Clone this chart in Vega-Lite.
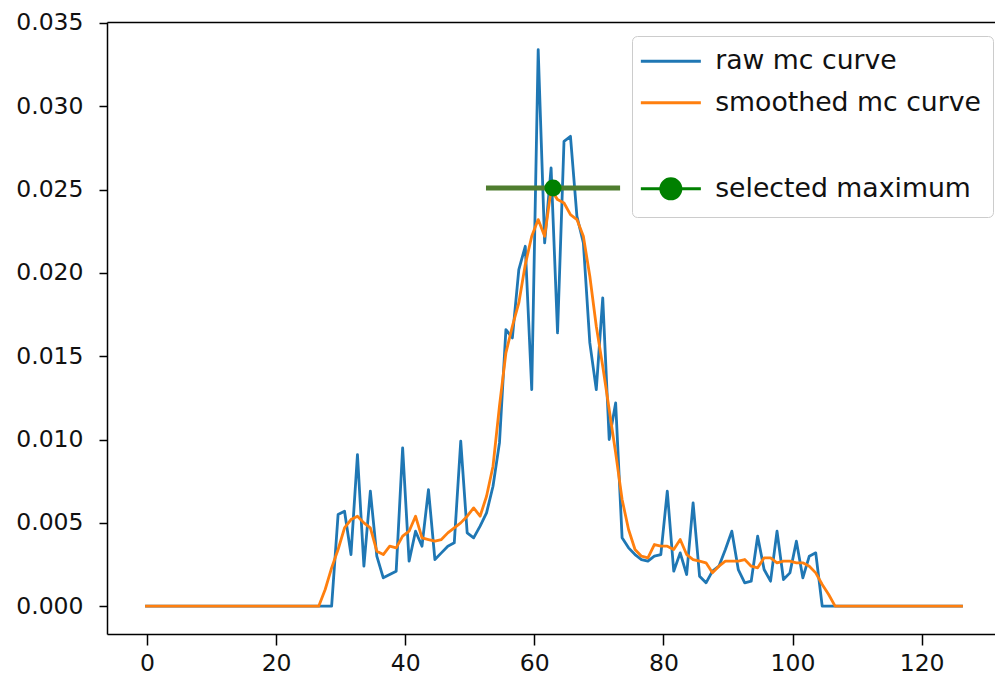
{
  "$schema": "https://vega.github.io/schema/vega-lite/v6.json",
  "width": 888,
  "height": 612,
  "autosize": {"type": "none"},
  "padding": {"left": 107, "top": 22, "right": 0, "bottom": 44},
  "background": "white",
  "config": {
    "view": {"stroke": null},
    "font": "DejaVu Sans",
    "axis": {
      "grid": false,
      "title": null,
      "domainColor": "#000000",
      "domainWidth": 1.5,
      "tickColor": "#000000",
      "tickWidth": 1.5,
      "labelColor": "#111111",
      "labelFont": "DejaVu Sans",
      "labelFontSize": 23.5,
      "labelFlush": false,
      "labelOverlap": false
    }
  },
  "datasets": {
    "mc": [
      {"x":-0.3,"raw":0,"smooth":0},{"x":1.6,"raw":0,"smooth":0},{"x":2.6,"raw":0,"smooth":0},{"x":3.6,"raw":0,"smooth":0},
      {"x":4.6,"raw":0,"smooth":0},{"x":5.6,"raw":0,"smooth":0},{"x":6.6,"raw":0,"smooth":0},{"x":7.6,"raw":0,"smooth":0},
      {"x":8.6,"raw":0,"smooth":0},{"x":9.6,"raw":0,"smooth":0},{"x":10.6,"raw":0,"smooth":0},{"x":11.6,"raw":0,"smooth":0},
      {"x":12.6,"raw":0,"smooth":0},{"x":13.6,"raw":0,"smooth":0},{"x":14.6,"raw":0,"smooth":0},{"x":15.6,"raw":0,"smooth":0},
      {"x":16.6,"raw":0,"smooth":0},{"x":17.6,"raw":0,"smooth":0},{"x":18.6,"raw":0,"smooth":0},{"x":19.6,"raw":0,"smooth":0},
      {"x":20.6,"raw":0,"smooth":0},{"x":21.6,"raw":0,"smooth":0},{"x":22.6,"raw":0,"smooth":0},{"x":23.6,"raw":0,"smooth":0},
      {"x":24.6,"raw":0,"smooth":0},{"x":25.6,"raw":0,"smooth":0},{"x":26.6,"raw":0,"smooth":0},{"x":27.6,"raw":0,"smooth":0.0010},
      {"x":28.6,"raw":0,"smooth":0.0023},{"x":29.6,"raw":0.0055,"smooth":0.0034},{"x":30.6,"raw":0.0057,"smooth":0.0047},
      {"x":31.6,"raw":0.0031,"smooth":0.0052},{"x":32.6,"raw":0.0091,"smooth":0.0054},{"x":33.6,"raw":0.0024,"smooth":0.0050},
      {"x":34.6,"raw":0.0069,"smooth":0.0047},{"x":35.6,"raw":0.0030,"smooth":0.0033},{"x":36.6,"raw":0.0017,"smooth":0.0031},
      {"x":37.6,"raw":0.0019,"smooth":0.0036},{"x":38.6,"raw":0.0021,"smooth":0.0035},{"x":39.6,"raw":0.0095,"smooth":0.0042},
      {"x":40.6,"raw":0.0027,"smooth":0.0045},{"x":41.6,"raw":0.0045,"smooth":0.0054},{"x":42.6,"raw":0.0036,"smooth":0.0041},
      {"x":43.6,"raw":0.0070,"smooth":0.0040},{"x":44.6,"raw":0.0028,"smooth":0.0039},{"x":45.6,"raw":0.0032,"smooth":0.0040},
      {"x":46.6,"raw":0.0036,"smooth":0.0044},{"x":47.6,"raw":0.0038,"smooth":0.0047},{"x":48.6,"raw":0.0099,"smooth":0.0050},
      {"x":49.6,"raw":0.0044,"smooth":0.0054},{"x":50.6,"raw":0.0041,"smooth":0.0059},{"x":51.6,"raw":0.0048,"smooth":0.0054},
      {"x":52.6,"raw":0.0056,"smooth":0.0066},{"x":53.6,"raw":0.0072,"smooth":0.0084},{"x":54.6,"raw":0.0098,"smooth":0.0120},
      {"x":55.6,"raw":0.0166,"smooth":0.0152},{"x":56.6,"raw":0.0161,"smooth":0.0168},{"x":57.6,"raw":0.0202,"smooth":0.0182},
      {"x":58.6,"raw":0.0216,"smooth":0.0205},{"x":59.6,"raw":0.0130,"smooth":0.0222},{"x":60.6,"raw":0.0334,"smooth":0.0232},
      {"x":61.6,"raw":0.0218,"smooth":0.0222},{"x":62.6,"raw":0.0263,"smooth":0.0250},{"x":63.6,"raw":0.0164,"smooth":0.0244},
      {"x":64.6,"raw":0.0279,"smooth":0.0242},{"x":65.6,"raw":0.0282,"smooth":0.0235},{"x":66.6,"raw":0.0234,"smooth":0.0232},
      {"x":67.6,"raw":0.0218,"smooth":0.0222},{"x":68.6,"raw":0.0158,"smooth":0.0198},{"x":69.6,"raw":0.0130,"smooth":0.0168},
      {"x":70.6,"raw":0.0185,"smooth":0.0144},{"x":71.6,"raw":0.0100,"smooth":0.0118},{"x":72.6,"raw":0.0122,"smooth":0.0092},
      {"x":73.6,"raw":0.0041,"smooth":0.0064},{"x":74.6,"raw":0.0035,"smooth":0.0046},{"x":75.6,"raw":0.0031,"smooth":0.0034},
      {"x":76.6,"raw":0.0028,"smooth":0.0030},{"x":77.6,"raw":0.0027,"smooth":0.0029},{"x":78.6,"raw":0.0030,"smooth":0.0037},
      {"x":79.6,"raw":0.0031,"smooth":0.0036},{"x":80.6,"raw":0.0069,"smooth":0.0036},{"x":81.6,"raw":0.0021,"smooth":0.0034},
      {"x":82.6,"raw":0.0032,"smooth":0.0040},{"x":83.6,"raw":0.0019,"smooth":0.0031},{"x":84.6,"raw":0.0062,"smooth":0.0028},
      {"x":85.6,"raw":0.0018,"smooth":0.0027},{"x":86.6,"raw":0.0014,"smooth":0.0026},{"x":87.6,"raw":0.0021,"smooth":0.0020},
      {"x":88.6,"raw":0.0024,"smooth":0.0024},{"x":89.6,"raw":0.0034,"smooth":0.0027},{"x":90.6,"raw":0.0045,"smooth":0.0027},
      {"x":91.6,"raw":0.0022,"smooth":0.0027},{"x":92.6,"raw":0.0014,"smooth":0.0028},{"x":93.6,"raw":0.0015,"smooth":0.0024},
      {"x":94.6,"raw":0.0042,"smooth":0.0023},{"x":95.6,"raw":0.0022,"smooth":0.0029},{"x":96.6,"raw":0.0015,"smooth":0.0029},
      {"x":97.6,"raw":0.0045,"smooth":0.0026},{"x":98.6,"raw":0.0016,"smooth":0.0027},{"x":99.6,"raw":0.0020,"smooth":0.0027},
      {"x":100.6,"raw":0.0039,"smooth":0.0026},{"x":101.6,"raw":0.0017,"smooth":0.0026},{"x":102.6,"raw":0.0030,"smooth":0.0024},
      {"x":103.6,"raw":0.0032,"smooth":0.0020},{"x":104.6,"raw":0,"smooth":0.0013},{"x":105.6,"raw":0,"smooth":0.0007},
      {"x":106.6,"raw":0,"smooth":0},{"x":107.6,"raw":0,"smooth":0},{"x":108.6,"raw":0,"smooth":0},{"x":109.6,"raw":0,"smooth":0},
      {"x":110.6,"raw":0,"smooth":0},{"x":111.6,"raw":0,"smooth":0},{"x":112.6,"raw":0,"smooth":0},{"x":113.6,"raw":0,"smooth":0},
      {"x":114.6,"raw":0,"smooth":0},{"x":115.6,"raw":0,"smooth":0},{"x":116.6,"raw":0,"smooth":0},{"x":117.6,"raw":0,"smooth":0},
      {"x":118.6,"raw":0,"smooth":0},{"x":119.6,"raw":0,"smooth":0},{"x":120.6,"raw":0,"smooth":0},{"x":121.6,"raw":0,"smooth":0},
      {"x":122.6,"raw":0,"smooth":0},{"x":123.6,"raw":0,"smooth":0},{"x":124.6,"raw":0,"smooth":0},{"x":125.6,"raw":0,"smooth":0},
      {"x":126.4,"raw":0,"smooth":0}
    ],
    "sel": [{"x":62.9,"x0":52.9,"x1":72.9,"y":0.0251}]
  },
  "resolve": {"axis": {"x": "independent"}},
  "layer": [
    {
      "data": {"name": "mc"},
      "mark": {"type": "line", "strokeWidth": 2.8, "strokeJoin": "round"},
      "encoding": {
        "x": {
          "field": "x", "type": "quantitative",
          "scale": {"domain": [-6.2, 131.37], "nice": false, "zero": false},
          "axis": {"values": [0, 20, 40, 60, 80, 100, 120], "tickSize": 11, "labelPadding": 6, "orient": "bottom"}
        },
        "y": {
          "field": "raw", "type": "quantitative",
          "scale": {"domain": [-0.00167, 0.03506], "nice": false, "zero": false},
          "axis": {"values": [0, 0.005, 0.01, 0.015, 0.02, 0.025, 0.03, 0.035], "format": ".3f", "tickSize": 8, "labelPadding": 16}
        },
        "color": {
          "datum": "raw mc curve", "type": "nominal",
          "scale": {
            "domain": ["raw mc curve", "smoothed mc curve", " ", "selected maximum"],
            "range": ["#1f77b4", "#ff7f0e", "transparent", "green"]
          },
          "legend": {
            "title": null,
            "orient": "none",
            "legendX": 525,
            "legendY": 14,
            "fillColor": "rgba(255,255,255,0.85)",
            "strokeColor": "#cccccc",
            "cornerRadius": 5,
            "padding": 12,
            "labelFont": "DejaVu Sans",
            "labelFontSize": 26.7,
            "labelColor": "#111111",
            "labelLimit": 600,
            "labelOffset": 31,
            "symbolOffset": 13.5,
            "symbolSize": 400,
            "symbolStrokeWidth": 3,
            "symbolType": "M-3,0H3",
            "rowPadding": 13.5,
            "encode": {
              "symbols": {
                "update": {
                  "shape": {"signal": "datum.value === 'selected maximum' ? 'M-3,0H3M-1,0A1,1,0,1,0,1,0A1,1,0,1,0,-1,0Z' : 'M-3,0H3'"},
                  "fill": {"signal": "datum.value === 'selected maximum' ? 'green' : 'transparent'"},
                  "strokeWidth": {"value": 3},
                  "opacity": {"value": 1}
                }
              }
            }
          }
        }
      }
    },
    {
      "data": {"name": "mc"},
      "mark": {"type": "line", "strokeWidth": 2.8, "strokeJoin": "round"},
      "encoding": {
        "x": {"field": "x", "type": "quantitative", "axis": null},
        "y": {"field": "smooth", "type": "quantitative"},
        "color": {"datum": "smoothed mc curve", "type": "nominal"}
      }
    },
    {
      "data": {"name": "sel"},
      "mark": {"type": "rule", "color": "#4f7d2f", "strokeWidth": 5, "strokeCap": "square"},
      "encoding": {
        "x": {"field": "x0", "type": "quantitative", "axis": {"orient": "top", "labels": false, "ticks": false, "domain": true}},
        "x2": {"field": "x1"},
        "y": {"field": "y", "type": "quantitative"}
      }
    },
    {
      "data": {"name": "sel"},
      "mark": {"type": "point", "filled": true, "size": 290, "color": "green", "opacity": 1},
      "encoding": {
        "x": {"field": "x", "type": "quantitative", "axis": null},
        "y": {"field": "y", "type": "quantitative"}
      }
    }
  ]
}
